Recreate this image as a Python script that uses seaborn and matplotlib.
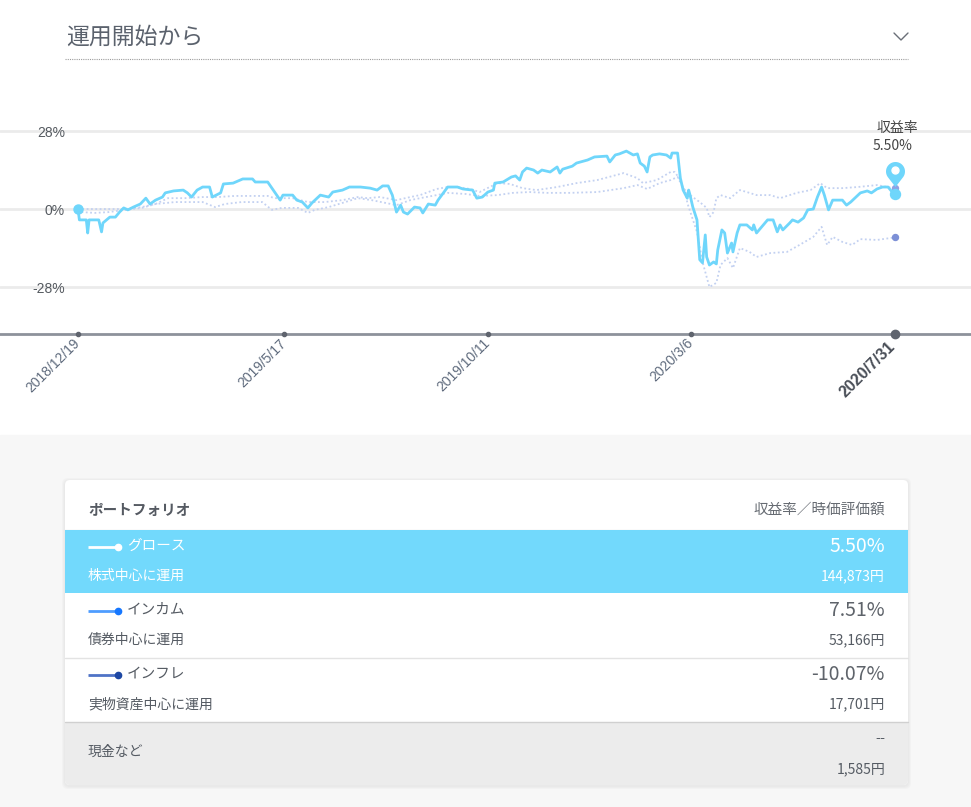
import numpy as np
import pandas as pd
import matplotlib.pyplot as plt
import seaborn as sns
from matplotlib.patches import Rectangle, FancyBboxPatch
from matplotlib.path import Path
from matplotlib.transforms import ScaledTranslation

# --- data (days since start, return in %) ---
start_date = "2018-12-19"

growth_day = [0, 1, 6, 7, 8, 15, 17, 18, 23, 27, 30, 33, 36, 40, 45, 49, 52, 56, 61, 63,
              69, 76, 79, 82, 86, 90, 95, 97, 103, 105, 112, 119, 126, 128, 137, 141, 146, 148, 155, 158,
              162, 166, 169, 175, 181, 184, 191, 196, 204, 211, 216, 220, 224, 227, 230, 233, 235, 238, 243, 247,
              249, 253, 258, 260, 267, 274, 278, 285, 288, 292, 296, 300, 301, 307, 313, 316, 319, 321, 324, 329,
              332, 335, 341, 346, 348, 350, 357, 360, 368, 373, 382, 384, 388, 391, 396, 401, 404, 406, 409, 411,
              413, 415, 420, 425, 428, 429, 433, 435, 437, 440, 441, 442, 444, 447, 449, 451, 453, 454, 456, 459,
              461, 462, 465, 467, 469, 472, 473, 476, 478, 483, 487, 488, 490, 495, 498, 502, 505, 507, 509, 514,
              516, 520, 524, 527, 531, 534, 537, 539, 542, 545, 552, 555, 558, 561, 565, 570, 573, 577, 581, 585,
              588, 590]
growth_pct = [0.0, -3.8, -3.8, -8.5, -3.8, -3.8, -8.1, -4.9, -2.8, -2.8, -1.0, 0.5, -0.2, 0.8, 1.9, 4.0, 1.9, 3.3, 4.4, 5.9,
              6.6, 6.9, 5.9, 4.4, 6.9, 8.0, 8.0, 4.4, 5.9, 9.1, 9.4, 10.9, 10.9, 9.8, 9.8, 6.9, 3.3, 5.1, 5.1, 3.3,
              2.6, 0.5, 2.3, 5.1, 4.4, 6.2, 6.9, 8.0, 8.0, 7.6, 6.9, 8.4, 8.4, 5.1, -1.0, 1.5, -1.0, -1.7, 0.8, 0.5,
              -1.3, 1.9, 1.5, 3.3, 8.0, 8.0, 7.3, 6.9, 4.0, 4.4, 6.2, 6.9, 9.4, 9.8, 11.6, 12.0, 10.5, 13.4, 14.8, 14.1,
              13.0, 14.1, 13.4, 15.2, 13.0, 14.4, 15.5, 16.6, 17.7, 18.8, 19.1, 17.0, 19.5, 19.9, 20.9, 19.5, 19.9, 16.6, 15.5, 13.4,
              18.8, 19.5, 19.9, 19.5, 18.4, 20.2, 20.2, 11.2, 6.9, 4.0, 6.9, 5.1, 0.8, -3.8, -18.1, -19.2, -9.2, -17.1, -20.0, -18.9,
              -19.6, -14.6, -7.4, -8.5, -15.7, -12.1, -15.3, -8.5, -5.6, -5.6, -7.4, -5.6, -8.5, -5.6, -3.8, -3.8, -8.1, -5.6, -7.4, -4.9,
              -3.8, -4.6, -3.1, -0.2, 0.1, 4.4, 8.0, 5.1, -0.2, 3.3, 3.3, 1.5, 2.6, 4.0, 5.9, 6.6, 5.9, 7.3, 8.0, 8.0,
              6.2, 5.5]

income_day = [0, 3, 34, 46, 56, 65, 77, 90, 101, 113, 126, 137, 142, 155, 166, 178, 191, 202, 209, 218,
              230, 240, 247, 259, 267, 274, 283, 290, 303, 312, 321, 331, 346, 360, 375, 394, 404, 408, 418, 428,
              431, 435, 437, 442, 449, 454, 456, 459, 461, 464, 471, 478, 483, 490, 500, 507, 519, 529, 536, 541,
              552, 563, 577, 590]
income_pct = [0.0, 0.1, 0.1, 0.8, 1.9, 4.0, 4.0, 4.4, 4.4, 4.8, 4.8, 4.8, 4.0, 4.0, 2.6, 2.6, 3.3, 4.4, 4.0, 4.4,
              3.3, 4.4, 5.1, 7.3, 8.0, 8.0, 7.3, 6.2, 9.4, 9.1, 7.6, 6.9, 8.0, 9.4, 10.5, 13.0, 11.2, 9.4, 10.5, 13.4,
              13.4, 10.5, 7.6, 5.1, 2.6, 0.5, -2.8, -1.0, 4.0, 5.1, 4.0, 6.9, 6.2, 5.1, 5.1, 4.0, 5.9, 6.9, 9.4, 7.6,
              7.6, 8.0, 8.7, 7.51]

inflation_day = [0, 3, 12, 22, 34, 46, 56, 70, 90, 99, 106, 118, 133, 140, 147, 159, 166, 171, 181, 191,
                 202, 212, 222, 230, 240, 247, 259, 267, 280, 290, 303, 314, 326, 339, 355, 375, 394, 404, 411, 420,
                 428, 433, 439, 440, 447, 451, 456, 461, 464, 469, 473, 478, 485, 490, 500, 512, 521, 531, 537, 541,
                 545, 552, 559, 565, 577, 590]
inflation_pct = [0.0, -1.0, -1.3, -1.0, -0.2, 0.5, 1.9, 2.6, 2.6, 0.8, 1.9, 2.6, 2.6, -0.2, 0.5, 0.5, -1.3, -0.2, 0.8, 2.3,
                 4.0, 3.3, 2.3, 1.5, 3.3, 4.0, 5.1, 5.9, 5.5, 4.8, 5.1, 5.9, 6.2, 5.9, 5.9, 6.2, 7.6, 8.7, 7.3, 9.4,
                 10.5, 11.6, 5.9, 2.3, -8.1, -18.9, -27.9, -26.4, -20.0, -17.5, -21.1, -13.9, -15.3, -17.1, -15.7, -15.3, -12.8, -9.9, -6.3, -12.8,
                 -9.9, -11.7, -12.8, -10.7, -11.0, -10.07]

tick_dates = ["2018-12-19", "2019-05-17", "2019-10-11", "2020-03-06", "2020-07-31"]
tick_labels = ["2018/12/19", "2019/5/17", "2019/10/11", "2020/3/6", "2020/7/31"]
y_ticks = [-28, 0, 28]

title = "運用開始から"
tip_label = "収益率"
tip_value = "5.50%"

names = ["グロース", "インカム", "インフレ"]
descs = ["株式中心に運用", "債券中心に運用", "実物資産中心に運用"]
rates = ["5.50%", "7.51%", "-10.07%"]
values = ["144,873円", "53,166円", "17,701円"]
cash_label = "現金など"
cash_rate = "--"
cash_value = "1,585円"

# colours
c_growth = "#6fd6fb"
c_dotted = "#c3d1f1"
c_row = "#72d9fc"
line_cols = ["#ffffff", "#4e9dff", "#4f73c6"]
dot_cols = ["#ffffff", "#1677ff", "#1d47a3"]
txt = "#555b63"

sns.set_theme(style="white")
plt.rcParams["font.family"] = ["Noto Sans CJK JP", "DejaVu Sans"]
latin = ["Liberation Sans", "DejaVu Sans"]

W, H = 971, 807
fig = plt.figure(figsize=(W / 100, H / 100), dpi=100)
fig.patch.set_facecolor("white")

# background layer in pixel coordinates
bg = fig.add_axes([0, 0, 1, 1], zorder=0)
bg.set_xlim(0, W)
bg.set_ylim(H, 0)
bg.axis("off")

bg.text(66, 37, title, fontsize=16.5, color="#5b626d", va="center", ha="left")
bg.plot([894, 901, 908], [33, 40, 33], color="#6a6f78", lw=1)
bg.plot([65, 908], [59, 59], color="#9c9c9c", lw=0.8, linestyle=(0, (1, 1)))

# --- chart ---
t0 = pd.Timestamp(start_date)
def to_df(days, pct):
    return pd.DataFrame({"date": t0 + pd.to_timedelta(days, unit="D"), "pct": pct})

df_g = to_df(growth_day, growth_pct)
df_i = to_df(income_day, income_pct)
df_f = to_df(inflation_day, inflation_pct)

ax = fig.add_axes([0, 1 - 334 / H, 1, (334 - 100) / H], zorder=2)
ax.patch.set_alpha(0)

for d in (df_f, df_i):
    sns.lineplot(data=d, x="date", y="pct", ax=ax, color=c_dotted, lw=1.3,
                 linestyle=(0, (1, 1.4)), estimator=None, legend=False)
sns.lineplot(data=df_g, x="date", y="pct", ax=ax, color=c_growth, lw=2,
             estimator=None, legend=False)

ymin, ymax = -44.76, 39.24
ax.set_xlim(t0 + pd.Timedelta(days=-56.33), t0 + pd.Timedelta(days=644.9))
ax.set_ylim(ymin, ymax)
ax.set_xlabel("")
ax.set_ylabel("")

ax.set_yticks(y_ticks)
ax.set_yticklabels([f"{v}%" for v in y_ticks], fontsize=10, color="#555a60", family=latin)
ax.tick_params(axis="y", length=0, pad=-65 * 0.72)
ax.grid(axis="y", color="#ebebeb", lw=2)
ax.grid(axis="x", visible=False)
ax.set_axisbelow(True)

tds = pd.to_datetime(tick_dates)
ax.set_xticks(tds)
ax.set_xticklabels(tick_labels, rotation=45, ha="right", rotation_mode="anchor",
                   fontsize=10, color="#5f6b7d", family=latin)
ax.tick_params(axis="x", length=0, pad=1.5)
labels = ax.get_xticklabels()
for lab in labels[:-1]:
    lab.set_transform(lab.get_transform() + ScaledTranslation(-5 / 100, 0, fig.dpi_scale_trans))
last = labels[-1]
last.set_transform(last.get_transform() + ScaledTranslation(-7 / 100, -3 / 100, fig.dpi_scale_trans))
last.set_fontweight("bold")
last.set_fontsize(11.5)
last.set_color("#4a4f58")

for s in ("top", "right", "left"):
    ax.spines[s].set_visible(False)
ax.spines["bottom"].set_color("#8d929b")
ax.spines["bottom"].set_linewidth(2)
ax.plot(tds[:-1], [ymin] * 4, "o", ms=3, color="#5f646e", clip_on=False, zorder=6)
ax.plot(tds[-1:], [ymin], "o", ms=6, color="#5f646e", clip_on=False, zorder=6)

# start and end markers
ax.plot(df_g["date"].iloc[:1], df_g["pct"].iloc[:1], "o", ms=6.5, color=c_growth, zorder=5)
ax.plot(df_i["date"].iloc[-1:], df_i["pct"].iloc[-1:], "o", ms=4.3, color="#8ea2e4", zorder=5)
ax.plot(df_f["date"].iloc[-1:], df_f["pct"].iloc[-1:], "o", ms=4.3, color="#7d90d6", zorder=5)
ax.plot(df_g["date"].iloc[-1:], df_g["pct"].iloc[-1:], "o", ms=7.2, color=c_growth, zorder=6)

# map pin above the last growth point
r, dtip = 9.5, 15.5
a = np.degrees(np.arccos(r / dtip))
th = np.radians(np.linspace(-90 + a, 270 - a, 48))
verts = [(0, -dtip)] + list(zip(r * np.cos(th), r * np.sin(th))) + [(0, -dtip)]
codes = [Path.MOVETO] + [Path.LINETO] * (len(verts) - 2) + [Path.CLOSEPOLY]
pin = Path(verts, codes)
up = ax.transData + ScaledTranslation(0, 22.5 / 100, fig.dpi_scale_trans)
ax.plot(df_g["date"].iloc[-1:], df_g["pct"].iloc[-1:], marker=pin, ms=2 * dtip * 0.72,
        color=c_growth, mew=0, transform=up, zorder=7)
ax.plot(df_g["date"].iloc[-1:], df_g["pct"].iloc[-1:], "o", ms=5, color="white",
        transform=ax.transData + ScaledTranslation(0, 23.5 / 100, fig.dpi_scale_trans), zorder=8)

ax.text(897, 128, tip_label, fontsize=10, color="#444", ha="center", va="center",
        transform=bg.transData, zorder=10)
ax.text(893, 146, tip_value, fontsize=10, color="#444", ha="center", va="center",
        transform=bg.transData, zorder=10)

# --- portfolio card ---
bg.add_patch(Rectangle((0, 435), W, H - 435, color="#f7f7f7", zorder=0))
for k, al in ((3, 0.25), (2, 0.35), (1, 0.5)):
    bg.add_patch(FancyBboxPatch((65 - k, 480 - k + 1), 843 + 2 * k, 305 + 2 * k,
                                boxstyle="round,pad=0,rounding_size=6", color="#e6e6e6",
                                alpha=al, lw=0, zorder=1))
bg.add_patch(FancyBboxPatch((65, 480), 843, 305, boxstyle="round,pad=0,rounding_size=5",
                            color="white", lw=0, zorder=2))

bg.text(88, 510, "ポートフォリオ", fontsize=10.5, fontweight="bold", color="#555a62",
        va="center", zorder=5)
bg.text(885, 510, "収益率／時価評価額", fontsize=10.5, color="#666b72", ha="right",
        va="center", zorder=5)
bg.plot([65, 908], [529.5, 529.5], color="#e6e6e6", lw=1, zorder=3)

row_top = [530, 594, 658]
for i in range(3):
    y0 = row_top[i]
    if i == 0:
        bg.add_patch(Rectangle((65, y0), 843, 63, color=c_row, lw=0, zorder=3))
        fg = "white"
        fr = "white"
    else:
        fg = txt
        fr = "#5e636a"
    yn = y0 + 16
    yd = y0 + 46
    bg.plot([88, 117], [yn + 1, yn + 1], color=line_cols[i], lw=2, zorder=4,
            solid_capstyle="butt")
    bg.plot([118], [yn + 1], "o", ms=4.5, color=dot_cols[i], zorder=4)
    bg.text(127, yn, names[i], fontsize=10.5, color=fg, va="center", zorder=5)
    bg.text(88, yd, descs[i], fontsize=10, color=fg, va="center", zorder=5)
    bg.text(885, yn, rates[i], fontsize=14, color=fr, ha="right", va="center", zorder=5)
    bg.text(885, yd, values[i], fontsize=10, color=fg, ha="right", va="center", zorder=5)
    if i > 0:
        bg.plot([65, 908], [y0 + 63.5, y0 + 63.5],
                color="#e3e3e3" if i == 1 else "#d0d0d0", lw=1, zorder=4)

bg.add_patch(FancyBboxPatch((65, 723), 843, 62, boxstyle="round,pad=0,rounding_size=5",
                            color="#ececec", lw=0, zorder=3))
bg.add_patch(Rectangle((65, 723), 843, 15, color="#ececec", lw=0, zorder=3))
bg.text(885, 738, cash_rate, fontsize=11, color=txt, ha="right", va="center", zorder=5,
        family=latin)
bg.text(88, 752, cash_label, fontsize=10, color=txt, va="center", zorder=5)
bg.text(885, 769, cash_value, fontsize=10, color=txt, ha="right", va="center", zorder=5)

fig.savefig("out.png", dpi=100, facecolor=fig.get_facecolor())
